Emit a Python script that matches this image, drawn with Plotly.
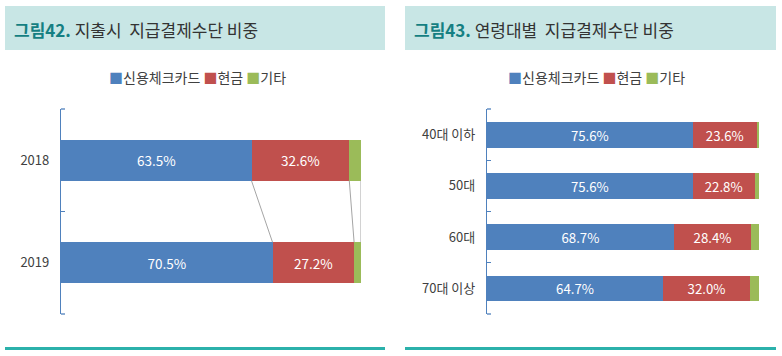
import plotly.graph_objects as go

W, H = 782, 356

# ---- data ----
series_names = ["신용체크카드", "현금", "기타"]
colors = ["#4F81BD", "#C0504D", "#9BBB59"]

years = ["2018", "2019"]
card_year = [63.5, 70.5]
cash_year = [32.6, 27.2]
other_year = [3.9, 2.3]

ages = ["40대 이하", "50대", "60대", "70대 이상"]
card_age = [75.6, 75.6, 68.7, 64.7]
cash_age = [23.6, 22.8, 28.4, 32.0]
other_age = [0.8, 1.6, 2.9, 3.3]

title_left = ("그림42.", "지출시  지급결제수단 비중")
title_right = ("그림43.", "연령대별  지급결제수단 비중")

FONT = "Noto Sans CJK KR"


def px(x):
    return x / W


def py(y):
    return 1 - y / H


fig = go.Figure()

def add_bars(cats, vals_list, xa, ya, width):
    for name, vals, col in zip(series_names, vals_list, colors):
        txt = [f"{v:.1f}%" if name != "기타" else "" for v in vals]
        fig.add_trace(go.Bar(
            y=cats, x=vals, orientation="h", name=name, width=width,
            marker=dict(color=col, line=dict(width=0)),
            text=txt, textposition="inside", insidetextanchor="middle",
            textfont=dict(color="white", size=13.5, family=FONT),
            xaxis=xa, yaxis=ya, showlegend=False, cliponaxis=False,
        ))

BW_LEFT, BW_RIGHT = 0.4, 0.5
add_bars(years, [card_year, cash_year, other_year], "x", "y", BW_LEFT)
add_bars(ages, [card_age, cash_age, other_age], "x2", "y2", BW_RIGHT)

AXC = "#4F81BD"
axis_common_y = dict(
    type="category", showline=True, linecolor=AXC,
    linewidth=1.3, ticks="inside", tickson="boundaries", ticklen=4,
    tickcolor=AXC, tickwidth=1.3, showgrid=False, zeroline=False,
    tickfont=dict(family=FONT, size=13, color="#404040"),
    ticklabelstandoff=8, fixedrange=True,
)

eps = 0.002
fig.update_layout(
    width=W, height=H, margin=dict(l=0, r=0, t=0, b=0),
    paper_bgcolor="white", plot_bgcolor="white", barmode="stack",
    showlegend=False,
    font=dict(family=FONT),
    xaxis=dict(domain=[px(61), px(361)], range=[0, 100], visible=False,
               anchor="y"),
    yaxis=dict(domain=[py(314), py(109)], anchor="x",
               categoryarray=years,
               range=[len(years) - 0.5 + eps, -0.5 - eps], **axis_common_y),
    xaxis2=dict(domain=[px(487), px(759)], range=[0, 100], visible=False,
                anchor="y2"),
    yaxis2=dict(domain=[py(314), py(109)], anchor="x2",
                categoryarray=ages,
                range=[len(ages) - 0.5 + eps, -0.5 - eps], **axis_common_y),
)

shapes = []
# header boxes and bottom lines
for x0, x1 in [(5, 385), (405, 776)]:
    shapes.append(dict(type="rect", xref="paper", yref="paper",
                       x0=px(x0), x1=px(x1), y0=py(50), y1=py(6),
                       fillcolor="#C8E6E5", line=dict(width=0), layer="below"))
    shapes.append(dict(type="rect", xref="paper", yref="paper",
                       x0=px(x0), x1=px(x1), y0=py(350), y1=py(347),
                       fillcolor="#2BB1AB", line=dict(width=0)))

# end ticks of the category axes (top and bottom boundaries)
for xr, yr in [("x domain", "y domain"), ("x2 domain", "y2 domain")]:
    for yv in (0, 1):
        shapes.append(dict(type="line", xref=xr, yref=yr, xsizemode="pixel",
                           xanchor=0, x0=0, x1=4, y0=yv, y1=yv,
                           line=dict(color=AXC, width=1.3)))

# series connector lines (left chart)
half = BW_LEFT / 2
cum_prev = [0, 0]
for vals in [card_year, cash_year, other_year]:
    c0 = cum_prev[0] + vals[0]
    c1 = cum_prev[1] + vals[1]
    shapes.append(dict(type="line", xref="x", yref="y",
                       x0=c0, y0=0 + half, x1=c1, y1=1 - half,
                       line=dict(color="#A5A5A5", width=1)))
    cum_prev = [c0, c1]

fig.update_layout(shapes=shapes)

ann = []
for (bold, rest), x in [(title_left, 12), (title_right, 412)]:
    ann.append(dict(
        xref="paper", yref="paper", x=px(x), y=py(29), xanchor="left",
        yanchor="middle", showarrow=False,
        text=(f"<span style='color:#157F82'><b>{bold}</b></span>"
              f" <span style='color:#333333'>{rest}</span>"),
        font=dict(family=FONT, size=17, color="#333333"),
    ))

legend_txt = "&nbsp;".join(
    f"<span style='color:{c}'>■</span>{n}" for n, c in zip(series_names, colors)
)
for cx in [197, 596]:
    ann.append(dict(
        xref="paper", yref="paper", x=px(cx), y=py(77), xanchor="center",
        yanchor="middle", showarrow=False, text=legend_txt,
        font=dict(family=FONT, size=14, color="#404040"),
    ))

fig.update_layout(annotations=ann)

fig.write_html("out.html", config={"displayModeBar": False},
               post_script="document.body.style.margin='0';")
